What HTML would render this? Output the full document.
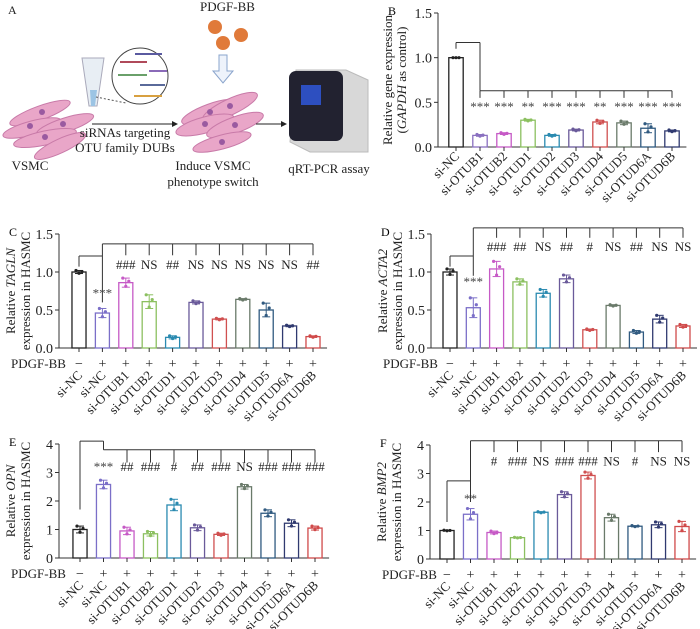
<!DOCTYPE html><html><head><meta charset="utf-8"><style>
body{margin:0;background:#fff}svg{display:block;font-family:"Liberation Serif",serif}
</style></head><body>
<svg id="s" width="700" height="629" viewBox="0 0 700 629" xmlns="http://www.w3.org/2000/svg">
<g id="A" fill="#222" font-size="13">
<text x="8" y="14" font-size="12">A</text>
<text x="200" y="11" font-size="13">PDGF-BB</text>
<circle cx="215" cy="27" r="7" fill="#e07a3a"/><circle cx="241" cy="35" r="7" fill="#e07a3a"/><circle cx="223" cy="43" r="7" fill="#e07a3a"/>
<path d="M219 55h8v16h6l-10 12-10-12h6z" fill="#eef3fb" stroke="#8aa4cc"/>
<path d="M82 58h22l-7 48h-8z" fill="#e8eef4" stroke="#aab"/><path d="M90 90h7l-2 16h-4z" fill="#9cc4e4"/>
<circle cx="140" cy="76" r="28" fill="#fff" stroke="#444"/>
<g stroke-width="2"><line x1="135" y1="54" x2="162" y2="54" stroke="#5a5aa0"/><line x1="120" y1="62" x2="147" y2="62" stroke="#b04a5a"/><line x1="149" y1="71" x2="167" y2="71" stroke="#8a6ab8"/><line x1="118" y1="75" x2="147" y2="75" stroke="#6aa06a"/><line x1="140" y1="85" x2="165" y2="85" stroke="#5a6a9a"/><line x1="134" y1="96" x2="162" y2="96" stroke="#d8a040"/></g>
<line x1="96" y1="97" x2="126" y2="103" stroke="#555" stroke-dasharray="2 2"/>
<g fill="#e9a6c8" stroke="#c87aa8">
<ellipse cx="40" cy="113" rx="32" ry="7" transform="rotate(-20 40 113)"/><ellipse cx="32" cy="128" rx="30" ry="7" transform="rotate(-15 32 128)"/><ellipse cx="65" cy="125" rx="30" ry="7" transform="rotate(-18 65 125)"/><ellipse cx="45" cy="138" rx="32" ry="7" transform="rotate(-12 45 138)"/><ellipse cx="60" cy="146" rx="28" ry="7" transform="rotate(-25 60 146)"/>
<ellipse cx="210" cy="112" rx="30" ry="8" transform="rotate(-20 210 112)"/><ellipse cx="230" cy="107" rx="30" ry="8" transform="rotate(-25 230 107)"/><ellipse cx="205" cy="125" rx="30" ry="8" transform="rotate(-15 205 125)"/><ellipse cx="235" cy="125" rx="30" ry="8" transform="rotate(-20 235 125)"/><ellipse cx="222" cy="142" rx="30" ry="7" transform="rotate(-15 222 142)"/></g>
<g fill="#9a5aa0"><circle cx="42" cy="112" r="3"/><circle cx="30" cy="126" r="3"/><circle cx="63" cy="124" r="3"/><circle cx="45" cy="137" r="3"/><circle cx="210" cy="112" r="3"/><circle cx="230" cy="106" r="3"/><circle cx="205" cy="124" r="3"/><circle cx="235" cy="125" r="3"/><circle cx="222" cy="142" r="3"/></g>
<line x1="92" y1="124" x2="173" y2="124" stroke="#222"/><path d="M178 124l-6-3v6z"/>
<line x1="256" y1="124" x2="282" y2="124" stroke="#222"/><path d="M287 124l-6-3v6z"/>
<path d="M296 70h50l22 10v72h-58l-20-10z" fill="#d8d8d8" stroke="#bbb"/>
<rect x="289" y="71" width="54" height="70" rx="7" fill="#222230"/>
<rect x="301" y="85" width="20" height="20" fill="#2d4fc0"/>
<text x="125" y="137" text-anchor="middle">siRNAs targeting</text><text x="125" y="152" text-anchor="middle">OTU family DUBs</text>
<text x="30" y="170" text-anchor="middle">VSMC</text>
<text x="213" y="170" text-anchor="middle">Induce VSMC</text><text x="213" y="186" text-anchor="middle">phenotype switch</text>
<text x="329" y="173" text-anchor="middle">qRT-PCR assay</text>
</g>
</svg>
<script>
const S=document.getElementById('s');let h='';
const names=['si-NC','si-NC','si-OTUB1','si-OTUB2','si-OTUD1','si-OTUD2','si-OTUD3','si-OTUD4','si-OTUD5','si-OTUD6A','si-OTUD6B'];
const colC=['#222','#7b6fc8','#c65ac6','#8cc060','#2a8ab0','#6a5a9a','#d05050','#6a7a6a','#305a80','#303a70','#d04a4a'];
function panel(o){
 const {ax,y0,y1,vmax,c0,c1,vals,err,cols,ylab1,ylab2,ticks,letter,pdgf,names:nm,lo}=o;
 const n=vals.length,sp=(c1-c0)/(n-1),sc=(y0-y1)/vmax,Y=v=>y0-v*sc,bw=sp*0.6;
 h+=`<text x="${ax-50}" y="${y1+2}" font-size="12">${letter}</text>`;
 h+=`<line x1="${ax}" y1="${y1}" x2="${ax}" y2="${y0}" stroke="#333"/><line x1="${ax}" y1="${y0}" x2="${c1+sp*0.6}" y2="${y0}" stroke="#333"/>`;
 ticks.forEach(t=>{h+=`<line x1="${ax-4}" y1="${Y(+t)}" x2="${ax}" y2="${Y(+t)}" stroke="#333"/><text x="${ax-6}" y="${Y(+t)+5}" font-size="14" text-anchor="end" fill="#222">${t}</text>`});
 const yc=(y0+y1)/2;
 h+=`<text transform="translate(${ax-lo[0]},${yc}) rotate(-90)" font-size="13" text-anchor="middle" fill="#222">${ylab1}</text><text transform="translate(${ax-lo[1]},${yc}) rotate(-90)" font-size="13" text-anchor="middle" fill="#222">${ylab2}</text>`;
 vals.forEach((v,i)=>{const cx=c0+i*sp,c=cols[i];
  h+=`<rect x="${cx-bw/2}" y="${Y(v)}" width="${bw}" height="${v*sc}" fill="#fff" stroke="${c}" stroke-width="1.3"/>`;
  const e=err[i];h+=`<line x1="${cx}" y1="${Y(v+e)}" x2="${cx}" y2="${Y(v-e)}" stroke="${c}"/><line x1="${cx-4}" y1="${Y(v+e)}" x2="${cx+4}" y2="${Y(v+e)}" stroke="${c}"/><line x1="${cx-4}" y1="${Y(v-e)}" x2="${cx+4}" y2="${Y(v-e)}" stroke="${c}"/>`;
  [[-3,e],[0,-e*.8],[3,e*.3]].forEach(d=>h+=`<circle cx="${cx+d[0]}" cy="${Y(v+d[1])}" r="1.6" fill="${c}"/>`);
  h+=`<line x1="${cx}" y1="${y0}" x2="${cx}" y2="${y0+4}" stroke="#333"/>`;
  if(pdgf)h+=`<text x="${cx}" y="${y0+20}" font-size="14" text-anchor="middle" fill="#222">${i?'+':'−'}</text>`;
  const ly=y0+(pdgf?28:10);
  h+=`<text transform="translate(${cx+4},${ly}) rotate(-45)" font-size="13" text-anchor="end" fill="#222">${nm[i]}</text>`;
 });
 if(pdgf)h+=`<text x="${ax-48}" y="${y0+20}" font-size="13" fill="#222">PDGF-BB</text>`;
 o.draw(Y,sp);
}
function L(a,b,c,d){h+=`<line x1="${a}" y1="${b}" x2="${c}" y2="${d}" stroke="#333"/>`}
function T(x,y,s,col){h+=`<text x="${x}" y="${y}" font-size="13" text-anchor="middle" fill="${col||'#222'}">${s}</text>`}
function stdDraw(c0,lab,top,tick,lbl,lb,nc,nv,starY,star){return (Y,sp)=>{
 const n=lab.length+2,xe=c0+(n-1)*sp,x1=c0+sp;
 L(x1,Y(top),xe,Y(top));L(x1,Y(top),x1,Y(nv));
 for(let i=2;i<n;i++){L(c0+i*sp,Y(top),c0+i*sp,Y(tick));T(c0+i*sp,Y(lbl)+4,lab[i-2]);}
 L(c0,Y(lb),x1,Y(lb));L(c0,Y(lb),c0,Y(nc));
 T(x1,Y(starY)+4,star,'#444');}}
const bcols=['#222','#8a70c0','#c65ac6','#8cc060','#2a8ab0','#6a5a9a','#d05050','#6a7a6a','#305a80','#303a70'];
const lo=[44,29];
panel({ax:438,y0:147,y1:13,vmax:1.5,c0:456,c1:672,vals:[1,.13,.15,.30,.13,.19,.28,.27,.21,.18],err:[0,.01,.01,.01,.01,.01,.02,.02,.05,.01],cols:bcols,ylab1:'Relative gene expression',ylab2:'(<tspan font-style="italic">GAPDH</tspan> as control)',ticks:['0.0','0.5','1.0','1.5'],letter:'B',pdgf:false,lo:[46,32],names:names.slice(1).map((s,i)=>i?s:'si-NC'),draw:(Y,sp)=>{
 L(456,Y(1.1),456,Y(1.17));L(456,Y(1.17),480,Y(1.17));L(480,Y(1.17),480,Y(0.63));L(480,Y(.63),672,Y(.63));
 ['***','***','**','***','***','**','***','***','***'].forEach((s,i)=>{const x=480+i*sp;L(x,Y(.63),x,Y(.55));T(x,Y(.45)+4,s,'#444')});}});
panel({ax:59,y0:348,y1:234,vmax:1.5,c0:79,c1:313,vals:[1,.46,.86,.61,.14,.60,.38,.64,.50,.29,.15],err:[.02,.06,.06,.09,.02,.02,.01,.01,.09,.01,.01],cols:colC,ylab1:'Relative <tspan font-style="italic">TAGLN</tspan>',ylab2:'expression in HASMC',ticks:['0.0','0.5','1.0','1.5'],letter:'C',pdgf:true,names,lo,
 draw:stdDraw(79,['###','NS','##','NS','NS','NS','NS','NS','##'],1.37,1.22,1.09,1.21,1.07,.6,.72,'***')});
panel({ax:431,y0:348,y1:234,vmax:1.5,c0:450,c1:683,vals:[1,.53,1.04,.87,.72,.91,.24,.56,.21,.38,.29],err:[.04,.13,.1,.04,.05,.05,.01,.01,.02,.05,.02],cols:colC,ylab1:'Relative <tspan font-style="italic">ACTA2</tspan>',ylab2:'expression in HASMC',ticks:['0.0','0.5','1.0','1.5'],letter:'D',pdgf:true,names,lo,
 draw:stdDraw(450,['###','##','NS','##','#','NS','##','NS','NS'],1.58,1.45,1.33,1.21,1.07,.95,.87,'***')});
panel({ax:59,y0:558,y1:444,vmax:4,c0:80,c1:315,vals:[1,2.58,.95,.85,1.86,1.06,.83,2.5,1.57,1.22,1.05],err:[.12,.15,.13,.08,.2,.1,.04,.08,.12,.12,.07],cols:colC,ylab1:'Relative <tspan font-style="italic">OPN</tspan>',ylab2:'expression in HASMC',ticks:['0','1','2','3','4'],letter:'E',pdgf:true,names,lo,
 draw:(Y,sp)=>{L(80,Y(1.7),80,Y(4.1));L(80,Y(4.1),80+sp,Y(4.1));L(80+sp,Y(4.1),80+sp,Y(3.8));L(80+sp,Y(3.8),315,Y(3.8));
 ['##','###','#','##','###','NS','###','###','###'].forEach((s,i)=>{const x=80+(i+2)*sp;L(x,Y(3.8),x,Y(3.35));T(x,Y(3.2)+4,s)});T(80+sp,Y(3.2)+4,'***','#444');}});
panel({ax:430,y0:559,y1:445,vmax:4,c0:447,c1:682,vals:[1,1.57,.93,.75,1.64,2.26,2.93,1.45,1.15,1.2,1.14],err:[.01,.2,.05,.01,.02,.1,.12,.12,.02,.1,.18],cols:colC,ylab1:'Relative <tspan font-style="italic">BMP2</tspan>',ylab2:'expression in HASMC',ticks:['0','1','2','3','4'],letter:'F',pdgf:true,names,lo,
 draw:stdDraw(447,['#','###','NS','###','###','NS','#','NS','NS'],4.15,3.75,3.42,2.74,1.3,2.0,2.1,'**')});
S.insertAdjacentHTML('beforeend',h);
</script>
</body></html>
